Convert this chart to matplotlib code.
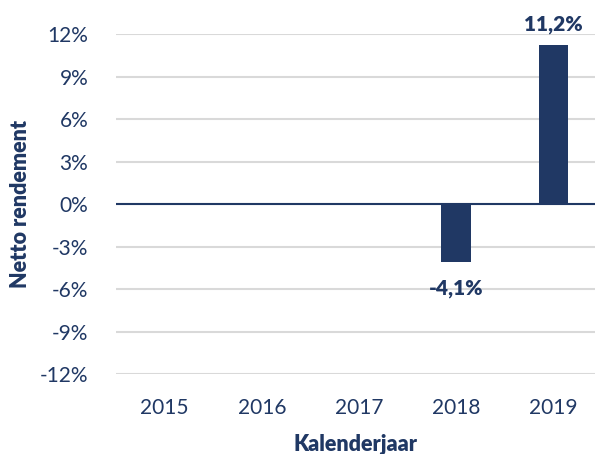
import numpy as np
import matplotlib.pyplot as plt

jaren = ["2015", "2016", "2017", "2018", "2019"]
rendement = [np.nan, np.nan, np.nan, -4.1, 11.2]
labels = ["", "", "", "-4,1%", "11,2%"]
yticks = [-12, -9, -6, -3, 0, 3, 6, 9, 12]

navy = "#203864"
plt.rcParams["font.family"] = ["Lato", "DejaVu Sans"]

fig = plt.figure(figsize=(5.95, 4.54), dpi=100)
ax = fig.add_axes([0.195, 0.176, 0.805, 0.749])

x = np.arange(len(jaren))
ax.bar(x, rendement, width=0.3, color=navy, zorder=3)
ax.axhline(0, color=navy, lw=1.5, zorder=4)

for xi, v, lab in zip(x, rendement, labels):
    if np.isnan(v):
        continue
    if v >= 0:
        ax.text(xi, v + 0.8, lab, ha="center", va="bottom", fontsize=15,
                fontweight="heavy", color=navy)
    else:
        ax.text(xi, v - 1.2, lab, ha="center", va="top", fontsize=15,
                fontweight="heavy", color=navy)

ax.set_xlim(-0.5, 4.43)
ax.set_ylim(-12, 12)
ax.set_yticks(yticks)
ax.set_yticklabels([f"{t}%" for t in yticks])
ax.set_xticks(x)
ax.set_xticklabels(jaren)
ax.yaxis.grid(True, color="#D9D9D9", lw=1.5, zorder=0)
ax.tick_params(length=0, labelsize=15, labelcolor=navy)
ax.tick_params(axis="y", pad=20)
ax.tick_params(axis="x", pad=17)
for s in ax.spines.values():
    s.set_visible(False)

ax.set_xlabel("Kalenderjaar", fontsize=15.5, fontweight="heavy", color=navy, labelpad=12)
ax.set_ylabel("Netto rendement", fontsize=15.5, fontweight="heavy", color=navy, labelpad=6)

fig.savefig("out.png", dpi=100)
